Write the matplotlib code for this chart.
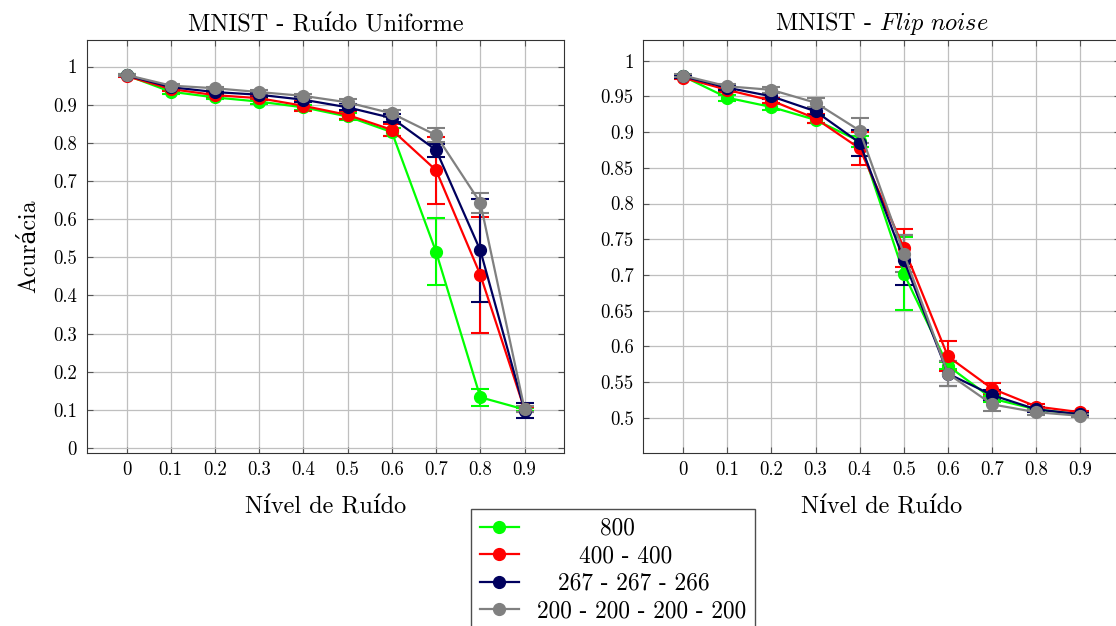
import numpy as np
import matplotlib
matplotlib.use('Agg')
from matplotlib import pyplot as plt
from matplotlib.lines import Line2D

plt.rcParams['font.family'] = ['cmr10', 'DejaVu Serif']
plt.rcParams['mathtext.fontset'] = 'cm'
plt.rcParams['axes.formatter.use_mathtext'] = True

noise = [0, 0.1, 0.2, 0.3, 0.4, 0.5, 0.6, 0.7, 0.8, 0.9]
noise_labels = ['0', '0.1', '0.2', '0.3', '0.4', '0.5', '0.6', '0.7', '0.8', '0.9']

names = ['800', '400 - 400', '267 - 267 - 266', '200 - 200 - 200 - 200']
colors = ['#00ff00', '#ff0000', '#00005e', '#808080']

# uniform noise: mean accuracy and std per network
unif_800 = [0.977, 0.934, 0.919, 0.908, 0.893, 0.869, 0.828, 0.514, 0.133, 0.101]
unif_800_err = [0.003, 0.005, 0.005, 0.006, 0.007, 0.008, 0.010, 0.088, 0.023, 0.005]
unif_400 = [0.975, 0.941, 0.925, 0.917, 0.897, 0.873, 0.834, 0.728, 0.454, 0.101]
unif_400_err = [0.003, 0.004, 0.005, 0.006, 0.013, 0.011, 0.015, 0.088, 0.152, 0.006]
unif_267 = [0.977, 0.946, 0.933, 0.926, 0.913, 0.893, 0.865, 0.781, 0.518, 0.098]
unif_267_err = [0.002, 0.003, 0.004, 0.005, 0.006, 0.008, 0.010, 0.017, 0.135, 0.020]
unif_200 = [0.978, 0.950, 0.943, 0.933, 0.923, 0.906, 0.877, 0.820, 0.643, 0.102]
unif_200_err = [0.002, 0.003, 0.004, 0.005, 0.006, 0.008, 0.010, 0.018, 0.026, 0.008]

# flip noise
flip_800 = [0.978, 0.948, 0.935, 0.917, 0.887, 0.702, 0.573, 0.527, 0.512, 0.505]
flip_800_err = [0.002, 0.004, 0.004, 0.005, 0.008, 0.051, 0.005, 0.004, 0.003, 0.002]
flip_400 = [0.976, 0.959, 0.944, 0.919, 0.877, 0.738, 0.586, 0.541, 0.516, 0.508]
flip_400_err = [0.002, 0.003, 0.004, 0.006, 0.023, 0.027, 0.021, 0.008, 0.004, 0.002]
flip_267 = [0.978, 0.962, 0.950, 0.929, 0.885, 0.721, 0.562, 0.532, 0.512, 0.505]
flip_267_err = [0.002, 0.003, 0.004, 0.005, 0.018, 0.035, 0.017, 0.007, 0.004, 0.002]
flip_200 = [0.979, 0.964, 0.959, 0.941, 0.902, 0.730, 0.562, 0.519, 0.508, 0.503]
flip_200_err = [0.002, 0.003, 0.004, 0.006, 0.017, 0.026, 0.017, 0.009, 0.004, 0.002]

unif_ticks = [0, 0.1, 0.2, 0.3, 0.4, 0.5, 0.6, 0.7, 0.8, 0.9, 1]
unif_tick_labels = ['0', '0.1', '0.2', '0.3', '0.4', '0.5', '0.6', '0.7', '0.8', '0.9', '1']
flip_ticks = [0.5, 0.55, 0.6, 0.65, 0.7, 0.75, 0.8, 0.85, 0.9, 0.95, 1]
flip_tick_labels = ['0.5', '0.55', '0.6', '0.65', '0.7', '0.75', '0.8', '0.85', '0.9', '0.95', '1']

fig = plt.figure(figsize=(11.16, 6.26), dpi=100)
ax1 = fig.add_axes([0.0777, 0.2764, 0.428, 0.660])
ax2 = fig.add_axes([0.5765, 0.2764, 0.4272, 0.660])


def draw(ax, series, errs):
    for y, e, c, n in zip(series, errs, colors, names):
        ax.errorbar(noise, y, yerr=e, color=c, lw=1.6, marker='o', ms=8.5,
                    capsize=6.5, capthick=1.5, elinewidth=1.5, label=n)
    ax.set_xticks(noise)
    ax.set_xticklabels(noise_labels)
    ax.set_xlim(-0.09, 0.99)
    ax.grid(True, color='#bfbfbf', lw=0.9)
    ax.set_axisbelow(True)
    ax.tick_params(direction='in', top=True, right=True, labelsize=13.5,
                   length=4, color='#555555')
    ax.tick_params(axis='y', pad=7)
    ax.tick_params(axis='x', pad=6)
    for s in ax.spines.values():
        s.set_color('#333333')
    ax.set_xlabel('Nível de Ruído', fontsize=17.5, labelpad=12)


draw(ax1, [unif_800, unif_400, unif_267, unif_200],
     [unif_800_err, unif_400_err, unif_267_err, unif_200_err])
ax1.set_yticks(unif_ticks)
ax1.set_yticklabels(unif_tick_labels)
ax1.set_ylim(-0.013, 1.07)
ax1.set_ylabel('Acurácia', fontsize=17, labelpad=9)
ax1.set_title('MNIST - Ruído Uniforme', fontsize=17.5, pad=6)

draw(ax2, [flip_800, flip_400, flip_267, flip_200],
     [flip_800_err, flip_400_err, flip_267_err, flip_200_err])
ax2.set_yticks(flip_ticks)
ax2.set_yticklabels(flip_tick_labels)
ax2.set_ylim(0.451, 1.029)
ax2.set_title(r'MNIST - $\mathit{Flip\ noise}$', fontsize=17.5, pad=7)

handles = [Line2D([], [], color=c, lw=1.6, marker='o', ms=8.5) for c in colors]
leg = fig.legend(handles, names, loc='upper center', bbox_to_anchor=(0.5495, 0.187),
                 fontsize=16.8, frameon=True, fancybox=False, edgecolor='#222222',
                 handlelength=1.65, labelspacing=0.23, borderpad=0.38,
                 handletextpad=0.8, borderaxespad=0)
leg.get_frame().set_linewidth(1.0)

# centre the shorter entries under the widest one
renderer = fig.canvas.get_renderer()
widths = [t.get_window_extent(renderer).width for t in leg.get_texts()]
widest = max(widths)
for t, w in zip(leg.get_texts(), widths):
    t.set_position(((widest - w) / 2 * 72 / fig.dpi, 0))

fig.savefig('out.png', dpi=100)
